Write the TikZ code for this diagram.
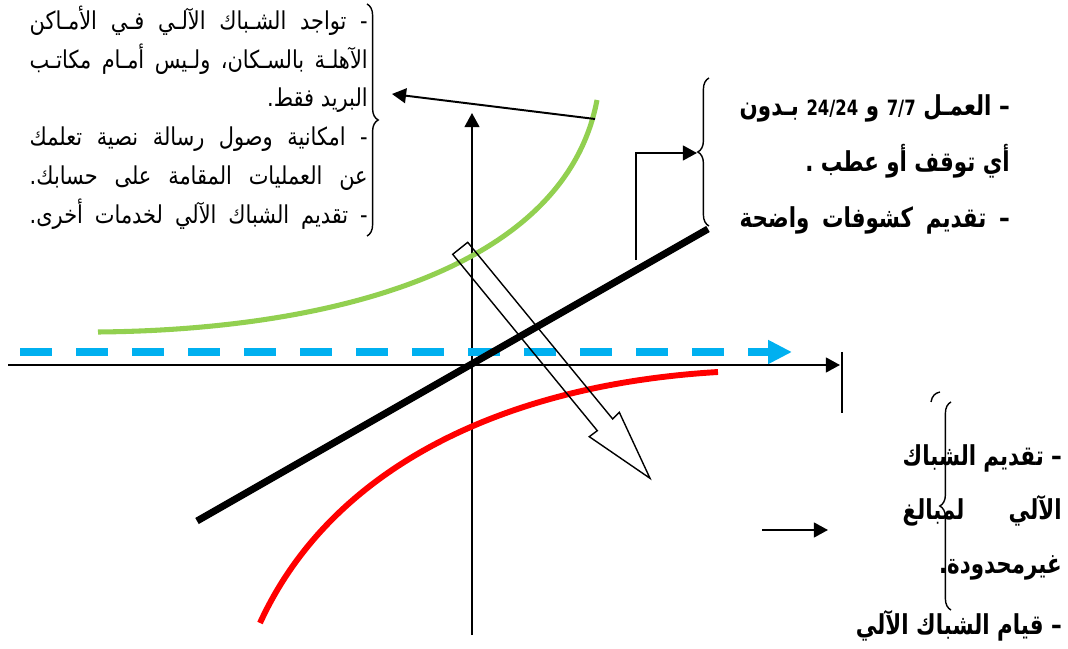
\documentclass[tikz,border=0pt]{standalone}
\usepackage{fontspec}
\newfontfamily\arabicfont[Script=Arabic,FakeStretch=0.85]{DejaVu Sans}
\newfontfamily\arabicfontb[Script=Arabic,FakeStretch=0.78]{DejaVu Sans}
\TeXXeTstate=1
\usetikzlibrary{arrows.meta,decorations.pathreplacing}
\definecolor{gruen}{HTML}{92D050}
\definecolor{blau}{HTML}{00B0F0}
\definecolor{rot}{HTML}{FF0000}
\newdimen\pxl \pxl=0.025cm
\newcommand{\zeile}[2]{\hbox to #1\pxl{#2}}
\newcommand{\zahl}[1]{{\fontsize{15}{15}\selectfont\beginL #1\endL}}
\tikzset{
  achse/.style={-{Triangle[length=10pt,width=10.5pt]},line width=1.4pt},
  pfeil/.style={-{Triangle[length=10pt,width=10.5pt]},line width=1.4pt},
  strich/.style={line width=1.4pt},
  gerade/.style={line width=5pt},
  gkurve/.style={gruen,line width=3.6pt},
  rkurve/.style={rot,line width=4.2pt},
  bpfeil/.style={-{Triangle[length=17pt,width=16pt]},blau,line width=5pt,dash pattern=on 0.8cm off 0.6cm},
  hohl/.style={line width=1pt,line join=miter},
  klammer/.style={decorate,decoration={brace,amplitude=0.28cm},line width=1pt},
  ltext/.style={font=\arabicfont\fontsize{17.5}{17.5}\selectfont,inner sep=0pt,anchor=base east},
  btext/.style={font=\arabicfontb\bfseries\fontsize{19.5}{19.5}\selectfont,inner sep=0pt,anchor=base east},
}
\begin{document}
\begin{tikzpicture}[x=0.025cm,y=-0.025cm]
  \useasboundingbox (0,0) rectangle (1068,649);
  \draw[achse] (8,365) -- (840,365);
  \draw[strich] (842,352) -- (842,413);
  \draw[achse] (472,635) -- (472,113);
  \draw[bpfeil] (20,352) -- (792,352);
  \draw[gkurve] (98,332) .. controls (330,330) and (565,270) .. (597,100);
  \draw[rkurve] (260,623) .. controls (330,470) and (500,385) .. (718,372);
  \draw[gerade] (197,521) -- (708,229);
  \draw[hohl] (452.7,254.3) -- (467.7,242.3) -- (612.7,419) -- (619.3,412.3) -- (650,478.3) -- (589.3,436.7) -- (597.3,430.7) -- cycle;

  \draw[klammer] (367,4) -- (367,236);
  \draw[klammer] (709,226) -- (709,78);
  \draw[klammer] (951,610) -- (951,402);
  \draw[line width=1pt] (931,402) .. controls (932,396) and (935,393) .. (940,392);

  \coordinate (gruenende) at (595,119);
  \coordinate (klinks) at (392,94);
  \coordinate (eckfuss) at (636,260);
  \coordinate (koben) at (697,153);
  \coordinate (ustart) at (762,530);
  \coordinate (kunten) at (828,530);
  \draw[pfeil] (gruenende) -- (klinks);
  \draw[pfeil] (eckfuss) |- (koben);
  \draw[pfeil] (ustart) -- (kunten);

  \node[ltext] (w1) at (368,30) {\zeile{338}{\beginR - تواجد الشـباك الآلـي فـي الأمـاكن\endR}};
  \node[ltext] (w2) at (368,69) {\zeile{338}{\beginR الآهلـة بالسـكان، ولـيس أمـام مكاتـب\endR}};
  \node[ltext] (w3) at (368,107) {\beginR البريد فقط.\endR};
  \node[ltext] (w4) at (368,146) {\zeile{338}{\beginR - امكانية وصول رسالة نصية تعلمك\endR}};
  \node[ltext] (w5) at (368,185) {\zeile{338}{\beginR عن العمليات المقامة على حسابك.\endR}};
  \node[ltext] (w6) at (368,224) {\zeile{338}{\beginR - تقديم الشباك الآلي لخدمات أخرى.\endR}};

  \node[btext] (a1) at (1010,116) {\zeile{270}{\beginR – العمـل \zahl{7/7} و \zahl{24/24} بـدون\endR}};
  \node[btext] (a2) at (1010,172) {\beginR أي توقف أو عطب .\endR};
  \node[btext] (a3) at (1010,228) {\zeile{270}{\beginR – تقديم كشوفات واضحة\endR}};

  \node[btext] (b1) at (1062,466) {\zeile{159}{\beginR – تقديم الشباك\endR}};
  \node[btext] (b2) at (1062,520) {\zeile{159}{\beginR الآلي  لمبالغ\endR}};
  \node[btext] (b3) at (1062,573) {\beginR غيرمحدودة.\endR};
  \node[btext] (b4) at (1062,634) {\beginR – قيام الشباك الآلي\endR};
\end{tikzpicture}
\end{document}
